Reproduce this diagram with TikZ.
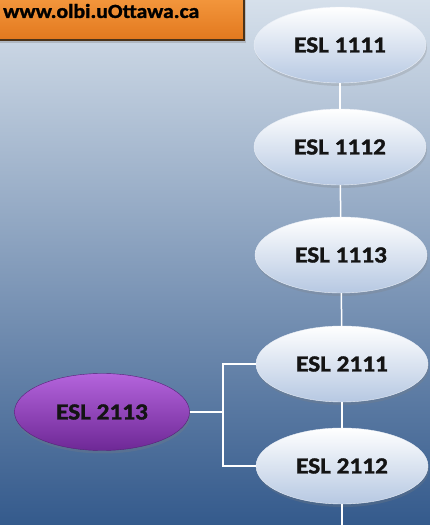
\documentclass[tikz,border=0pt]{standalone}
\usepackage{fontspec}
\usepackage{xcolor}
\usepackage{graphicx}
\usepackage{tikz}
\usetikzlibrary{calc}
\usetikzlibrary{shapes}
\usetikzlibrary{shapes.geometric}
\usetikzlibrary{shadows}
\usetikzlibrary{positioning}
\newfontfamily\calfont[FakeStretch=1.1, FakeBold=1.5]{Carlito}
\definecolor{bgtop}{RGB}{214,224,235}
\definecolor{bgbot}{RGB}{52,90,140}
\definecolor{pilltop}{RGB}{255,255,255}
\definecolor{pillbot}{RGB}{182,200,226}
\definecolor{purtop}{RGB}{180,100,220}
\definecolor{purbot}{RGB}{110,40,150}
\definecolor{orgtop}{RGB}{248,160,70}
\definecolor{orgbot}{RGB}{226,120,30}
\tikzstyle{course} = [ellipse, minimum width=172pt, minimum height=76pt, inner sep=0,
  top color=pilltop, bottom color=pillbot, draw=white!70!pillbot, line width=0.4pt,
  drop shadow={opacity=0.25, shadow xshift=1pt, shadow yshift=-3pt},
  font=\calfont\bfseries\fontsize{23}{23}\selectfont, text=black!92]
\tikzstyle{link} = [draw=white, line width=1.5pt]

\begin{document}
\begin{tikzpicture}[x=1pt, y=1pt]
\useasboundingbox (0,0) rectangle (430,525);
\clip (0,0) rectangle (430,525);
\shade [top color=bgtop, bottom color=bgbot] (0,0) rectangle (430,525);
% web address
\shade [top color=orgtop, bottom color=orgbot, draw=black!60!brown, line width=1.5pt,
  drop shadow={opacity=0.35, shadow xshift=2pt, shadow yshift=-3pt}]
  (-6, 485) rectangle (244, 540);
\node [anchor=west, inner sep=0] (web) at (3, 514)
  {\resizebox{196pt}{14pt}{\calfont\bfseries www.olbi.uOttawa.ca}};
% course chain
\node [course] (E1111) at (340, 480) {ESL 1111};
\node [course] (E1112) at (340, 378) {ESL 1112};
\node [course] (E1113) at (341, 270) {ESL 1113};
\node [course] (E2111) at (342, 161) {ESL 2111};
\node [course] (E2112) at (342, 59) {ESL 2112};
\node [course, top color=purtop, bottom color=purbot, draw=purbot!80!black,
  minimum width=175pt, minimum height=77pt] (E2113) at (102, 113) {ESL 2113};
\coordinate (fork) at (223, 113);
\coordinate (tail) at (342, 0);
\draw [link] (E1111) -- (E1112);
\draw [link] (E1112) -- (E1113);
\draw [link] (E1113) -- (E2111);
\draw [link] (E2111) -- (E2112);
\draw [link] (E2112) -- (tail);
\draw [link] (E2113) -- (fork);
\draw [link] (E2111.west) -| (fork) |- (E2112.west);
\end{tikzpicture}
\end{document}
